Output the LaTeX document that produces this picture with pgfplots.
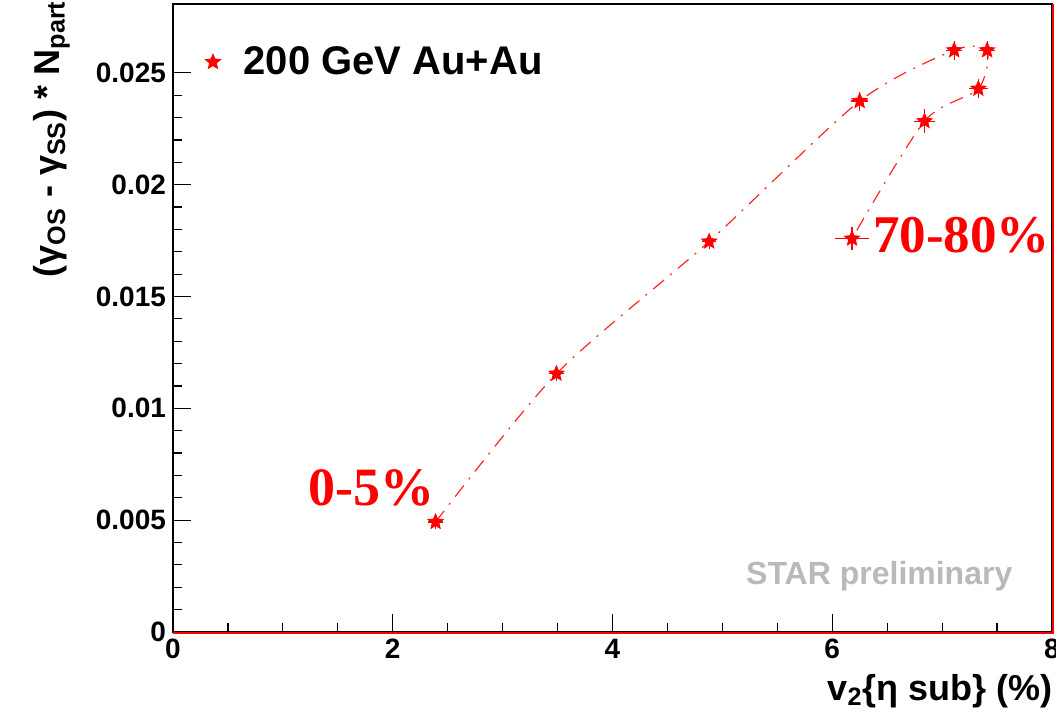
\documentclass[border=0pt]{standalone}
\usepackage{fontspec}
\setmainfont{Liberation Sans}
\newfontfamily\timesfont{Liberation Serif}
\usepackage{pgfplots}
\usepackage{pgfplotstable}
\pgfplotsset{compat=1.18}
\definecolor{rootred}{RGB}{255,0,0}
\definecolor{stargray}{RGB}{185,185,185}
\pgfdeclareplotmark{fstar}{%
  \pgfpathmoveto{\pgfpointpolar{90}{\pgfplotmarksize}}%
  \pgfpathlineto{\pgfpointpolar{126}{0.45\pgfplotmarksize}}%
  \pgfpathlineto{\pgfpointpolar{162}{\pgfplotmarksize}}%
  \pgfpathlineto{\pgfpointpolar{198}{0.45\pgfplotmarksize}}%
  \pgfpathlineto{\pgfpointpolar{234}{\pgfplotmarksize}}%
  \pgfpathlineto{\pgfpointpolar{270}{0.45\pgfplotmarksize}}%
  \pgfpathlineto{\pgfpointpolar{306}{\pgfplotmarksize}}%
  \pgfpathlineto{\pgfpointpolar{342}{0.45\pgfplotmarksize}}%
  \pgfpathlineto{\pgfpointpolar{18}{\pgfplotmarksize}}%
  \pgfpathlineto{\pgfpointpolar{54}{0.45\pgfplotmarksize}}%
  \pgfpathclose
  \pgfusepathqfill
}
\pgfplotstableread{
x     y        ex    ey
2.39  0.00492  0.02  0.0001
3.49  0.01155  0.02  0.0001
4.88  0.01746  0.02  0.0001
6.25  0.02374  0.03  0.0002
7.11  0.02601  0.03  0.0002
7.41  0.02601  0.03  0.0002
7.33  0.02429  0.04  0.0002
6.84  0.02284  0.05  0.0003
6.18  0.01759  0.11  0.0003
}\datatable
\begin{document}
\begin{tikzpicture}
\begin{axis}[
  at={(86.5pt,44.5pt)}, anchor=south west,
  scale only axis, width=439.5pt, height=314pt,
  xmin=0, xmax=8, ymin=0, ymax=0.02808,
  xtick={0,2,4,6,8}, minor x tick num=3,
  ytick={0,0.005,0.01,0.015,0.02,0.025}, minor y tick num=4,
  tick align=inside, xtick pos=bottom, ytick pos=left,
  major tick length=9pt, minor tick length=4.5pt,
  tick style={black, line width=0.6pt},
  axis line style={black, line width=0.6pt},
  scaled y ticks=false,
  /pgf/number format/assume math mode=true,
  tick label style={font=\bfseries\fontsize{14}{16}\selectfont},
  yticklabel style={/pgf/number format/fixed, /pgf/number format/precision=3},
  xlabel={v\textsubscript{2}\{η sub\} (\%)},
  xlabel style={at={(axis description cs:1.0011,-0.1083)}, anchor=base east, font=\bfseries\fontsize{18}{20}\selectfont, inner sep=0pt},
  ylabel={(γ\textsubscript{OS} - γ\textsubscript{SS}) * N\textsubscript{part}},
  ylabel style={at={(axis description cs:-0.117,1.006)}, anchor=south east, font=\bfseries\fontsize{18}{20}\selectfont, inner sep=0pt},
  legend style={at={(axis description cs:0.0353,0.9076)}, anchor=west, draw=none, fill=none,
    font=\bfseries\fontsize{20}{24}\selectfont, inner sep=0pt, nodes={inner sep=0pt}, column sep=11pt},
  legend cell align=left,
  after end axis/.code={
    \draw[rootred, line width=1.1pt] ([yshift=-0.5pt]rel axis cs:0,0) -- ([xshift=0.5pt,yshift=-0.5pt]rel axis cs:1,0) -- ([xshift=0.5pt]rel axis cs:1,1);
  },
]
\addplot[rootred!85, line width=0.6pt, smooth, tension=0.45, dash pattern=on 7pt off 4pt on 1pt off 4pt, forget plot] table[x=x, y=y] {\datatable};
\addplot[only marks, mark=fstar, mark size=4.5pt, rootred,
  error bars/.cd, x dir=both, x explicit, y dir=both, y explicit,
  error bar style={rootred, line width=0.6pt},
  error mark options={rootred, mark size=2.5pt, line width=0.6pt}]
  table[x=x, y=y, x error=ex, y error=ey] {\datatable};
\addlegendentry{200 GeV Au+Au}
\node[anchor=base east, font=\timesfont\bfseries\fontsize{27}{30}\selectfont, text=rootred, inner sep=0pt] at (axis cs:2.384,0.00567) {0-5\%};
\node[anchor=base west, font=\timesfont\bfseries\fontsize{26.5}{30}\selectfont, text=rootred, inner sep=0pt] at (axis cs:6.37,0.01696) {70-80\%};
\node[anchor=base east, font=\bfseries\fontsize{16}{18}\selectfont, text=stargray, inner sep=0pt] at (axis cs:7.643,0.002143) {STAR preliminary};
\end{axis}
\pgfresetboundingbox
\path (0,0) rectangle (528pt,360.5pt);
\end{tikzpicture}
\end{document}
